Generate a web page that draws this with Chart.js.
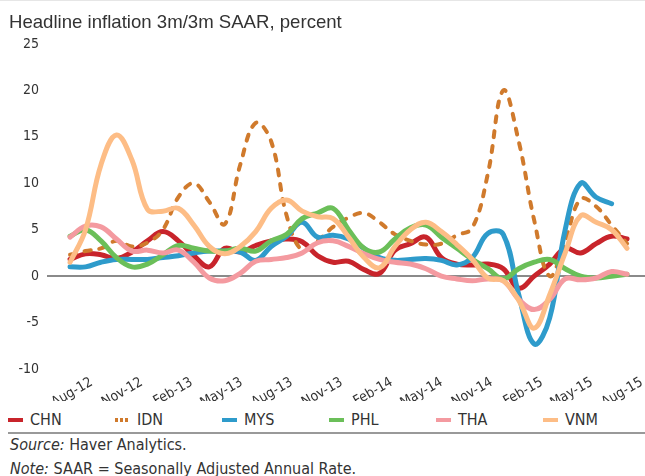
<!DOCTYPE html>
<html>
<head>
<meta charset="utf-8">
<script src="https://cdn.jsdelivr.net/npm/chart.js@4.4.1/dist/chart.umd.min.js"></script>
<style>
  body { margin: 0; background: #fff; }
  #wrap { position: relative; width: 645px; height: 476px; border-top: 1px solid #e6e6e6; box-sizing: border-box; overflow: hidden; }
  #title { position: absolute; left: 9px; top: 10px; font: 18.6px 'Liberation Sans', Arial, sans-serif; color: #333; }
  #box { position: absolute; left: 0; top: 0; width: 645px; height: 400px; }
  #legend { position: absolute; left: 8px; top: 409px; display: flex; font: 16px 'Liberation Sans Narrow', 'DejaVu Sans Condensed', sans-serif; color: #333; }
  #legend .item { width: 107px; display: flex; align-items: center; }
  #legend .sw { width: 15px; height: 4px; margin-right: 7px; }
  #rule { position: absolute; left: 8px; right: 0; top: 431px; height: 2px; background: #999; }
  .note { position: absolute; left: 10px; font: 16px 'Liberation Sans Narrow', 'DejaVu Sans Condensed', sans-serif; color: #333; }
</style>
</head>
<body>
<div id="wrap">
  <div id="box"><canvas id="myChart"></canvas></div>
  <div id="title">Headline inflation 3m/3m SAAR, percent</div>
  <div id="legend"></div>
  <div id="rule"></div>
  <div class="note" style="top:434px"><i>Source:</i> Haver Analytics.</div>
  <div class="note" style="top:458px"><i>Note:</i> SAAR = Seasonally Adjusted Annual Rate.</div>
</div>
<script>
const months = ['Aug-12','Sep-12','Oct-12','Nov-12','Dec-12','Jan-13','Feb-13','Mar-13','Apr-13','May-13','Jun-13','Jul-13',
  'Aug-13','Sep-13','Oct-13','Nov-13','Dec-13','Jan-14','Feb-14','Mar-14','Apr-14','May-14','Jun-14','Jul-14',
  'Aug-14','Sep-14','Oct-14','Nov-14','Dec-14','Jan-15','Feb-15','Mar-15','Apr-15','May-15','Jun-15','Jul-15','Aug-15'];
const tickLabels = ['Aug-12','Nov-12','Feb-13','May-13','Aug-13','Nov-13','Feb-14','May-14','Nov-14','Feb-15','May-15','Aug-15'];
const yTicks = [25, 20, 15, 10, 5, 0, -5, -10];

const chn = [1.8,2.4,2.3,1.9,2.6,3.8,4.8,3.8,2.2,1.0,3.0,2.6,3.3,3.8,4.0,3.7,2.2,1.5,1.6,0.7,0.3,2.8,3.5,4.2,2.0,1.3,1.2,1.3,0.8,-1.3,0.0,1.3,3.0,2.5,3.5,4.3,4.0];
const idn = [2.3,2.7,3.0,3.8,3.2,3.6,5.0,8.5,10.0,8.0,5.6,12.0,16.5,14.5,6.5,2.8,3.8,5.3,6.3,6.8,5.8,4.5,3.8,3.4,3.5,4.4,5.2,11.0,20.0,14.5,6.0,0.0,3.8,8.3,7.5,5.5,3.5];
const mys = [1.0,1.0,1.5,1.8,1.8,1.8,2.0,2.2,2.5,2.7,2.7,2.6,1.7,3.2,4.3,5.8,4.2,4.4,4.0,3.0,2.0,1.7,1.8,1.9,1.7,1.2,2.0,4.6,4.5,-2.0,-7.3,-4.5,5.0,10.0,8.5,7.8,null];
const phl = [4.3,5.0,3.8,2.0,1.0,1.3,2.3,3.3,3.0,2.7,2.7,3.0,2.7,3.8,4.5,6.2,6.8,7.3,5.0,3.0,2.6,4.0,5.2,5.5,4.2,3.0,1.8,0.8,-0.3,0.8,1.5,1.8,0.8,0.0,-0.2,0.0,0.2];
const tha = [4.2,5.4,5.3,4.0,2.7,2.8,2.5,2.8,1.5,-0.2,-0.5,0.3,1.6,1.8,2.0,2.5,3.6,3.8,3.2,2.4,1.8,1.5,1.3,0.8,0.0,-0.3,-0.5,-0.3,-0.5,-2.5,-3.6,-2.5,-0.3,-0.4,-0.2,0.5,0.2];
const vnm = [1.5,5.0,12.0,15.2,12.5,7.2,7.0,7.3,5.5,3.2,2.4,3.2,4.8,7.3,8.2,7.0,6.4,6.2,4.2,2.0,0.9,3.2,5.0,5.8,4.8,3.4,1.8,-0.2,-0.5,-2.6,-5.6,-2.0,2.5,6.5,5.8,5.0,3.0];

const narrow = "'Liberation Sans Narrow', 'DejaVu Sans Condensed', sans-serif";
const xMin = -1.49, xMax = 37.16;
const tickFirst = 1.4, tickLast = 36.95;

const series = [
  { label: 'CHN', data: chn, color: '#C8242B', dash: [] },
  { label: 'IDN', data: idn, color: '#D07A2C', dash: [6, 9] },
  { label: 'MYS', data: mys, color: '#2E9BCB', dash: [] },
  { label: 'PHL', data: phl, color: '#6BBF59', dash: [] },
  { label: 'THA', data: tha, color: '#F49AA0', dash: [] },
  { label: 'VNM', data: vnm, color: '#FDBD86', dash: [] }
];

const ctx = document.getElementById('myChart').getContext('2d');
const myChart = new Chart(ctx, {
  type: 'line',
  data: {
    datasets: series.map((s, k) => ({
      label: s.label,
      data: months.map((m, i) => ({ x: i, y: s.data[i] })),
      borderColor: s.color,
      backgroundColor: s.color,
      borderWidth: s.dash.length ? 4 : 5,
      borderDash: s.dash,
      borderCapStyle: 'round',
      pointRadius: 0,
      tension: 0.4,
      spanGaps: false,
      fill: false,
      order: series.length - k
    }))
  },
  options: {
    responsive: true,
    maintainAspectRatio: false,
    animation: false,
    layout: { padding: { top: 43, right: 0, left: 0, bottom: 0 } },
    scales: {
      x: {
        type: 'linear',
        min: xMin,
        max: xMax,
        grid: { display: false },
        border: { display: false },
        afterBuildTicks: (scale) => {
          scale.ticks = tickLabels.map((t, k) => ({ value: tickFirst + k * (tickLast - tickFirst) / (tickLabels.length - 1) }));
        },
        afterFit: (scale) => { scale.height = 32; scale.paddingLeft = 0; scale.paddingRight = 0; },
        ticks: {
          autoSkip: false,
          minRotation: 30,
          maxRotation: 30,
          padding: -3,
          color: '#333',
          font: { family: narrow, size: 14 },
          callback: (v, i) => tickLabels[i]
        }
      },
      y: {
        min: -10,
        max: 25,
        border: { display: false },
        afterBuildTicks: (scale) => { scale.ticks = yTicks.map(v => ({ value: v })); },
        afterFit: (scale) => { scale.width = 47; },
        grid: {
          drawTicks: false,
          color: (c) => c.tick && c.tick.value === 0 ? '#8a8a8a' : 'rgba(0,0,0,0)',
          lineWidth: 2
        },
        ticks: {
          padding: 8,
          color: '#333',
          font: { family: narrow, size: 14 }
        }
      }
    },
    plugins: {
      legend: { display: false },
      tooltip: { enabled: false }
    }
  }
});

// legend below the chart
const legend = document.getElementById('legend');
series.forEach(s => {
  const item = document.createElement('div');
  item.className = 'item';
  const sw = document.createElement('span');
  sw.className = 'sw';
  sw.style.background = s.dash.length
    ? 'repeating-linear-gradient(90deg,' + s.color + ' 0 3px, transparent 3px 5px)'
    : s.color;
  item.appendChild(sw);
  item.appendChild(document.createTextNode(s.label));
  legend.appendChild(item);
});
</script>
</body>
</html>
